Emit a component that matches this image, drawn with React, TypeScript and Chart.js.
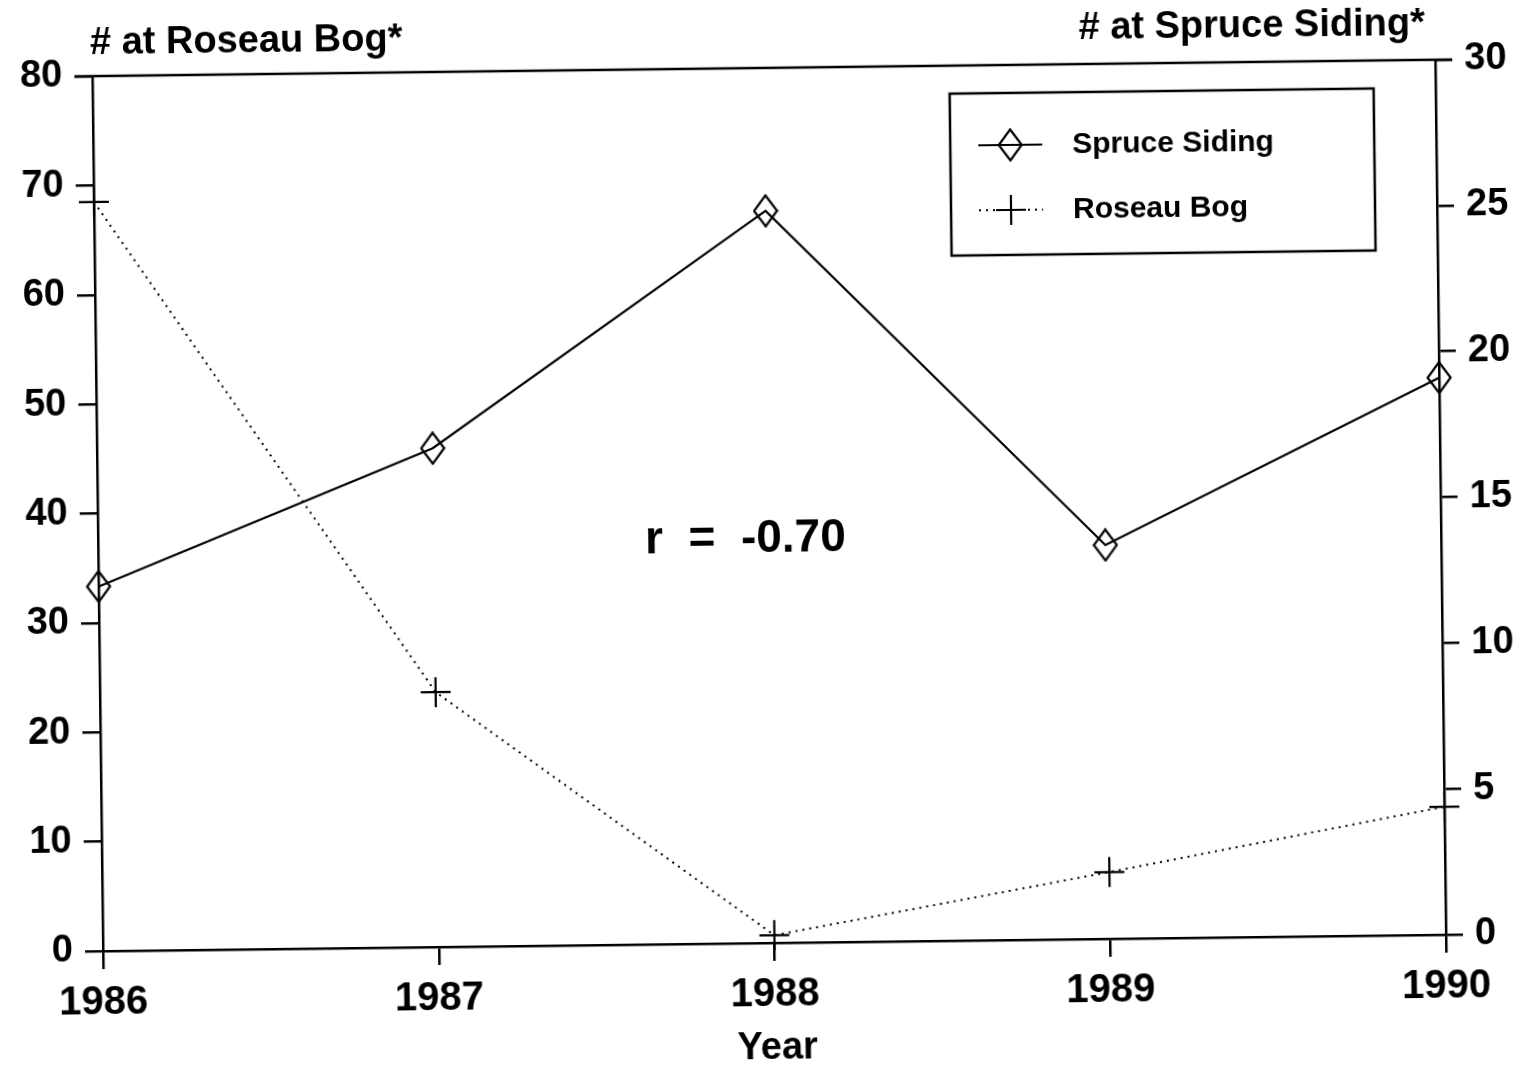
import React, { useEffect, useRef } from "react";
import { Chart, registerables } from "chart.js";
Chart.register(...registerables);

// ---- data ----
const years = ["1986", "1987", "1988", "1989", "1990"];
const spruceSiding = [12.5, 17.1, 25.1, 13.5, 19.1]; // right axis
const roseauBog = [68.5, 23.3, 0.7, 6.1, 11.7]; // left axis
const seriesNames = ["Spruce Siding", "Roseau Bog"];
const leftAxisTitle = "# at Roseau Bog*";
const rightAxisTitle = "# at Spruce Siding*";
const xAxisTitle = "Year";
const correlationText = "r  =  -0.70";
const leftAxisMin = 0;
const leftAxisMax = 80;
const leftAxisStep = 10;
const rightAxisMin = 0;
const rightAxisMax = 30;
const rightAxisStep = 5;

const FONT = "'Liberation Sans', Arial, Helvetica, sans-serif";

function makeDiamond(): HTMLCanvasElement {
  const c = document.createElement("canvas");
  c.width = 26;
  c.height = 34;
  const ctx = c.getContext("2d")!;
  ctx.strokeStyle = "#000";
  ctx.lineWidth = 2.2;
  ctx.beginPath();
  ctx.moveTo(13, 1.5);
  ctx.lineTo(24.5, 17);
  ctx.lineTo(13, 32.5);
  ctx.lineTo(1.5, 17);
  ctx.closePath();
  ctx.stroke();
  return c;
}

const annotationPlugin = {
  id: "annotations",
  afterDraw(chart: any) {
    const { ctx, chartArea } = chart;
    ctx.save();
    // top frame line
    ctx.strokeStyle = "#000";
    ctx.lineWidth = 2.5;
    ctx.beginPath();
    ctx.moveTo(chartArea.left - 18, chartArea.top);
    ctx.lineTo(chartArea.right + 17, chartArea.top);
    ctx.stroke();

    ctx.fillStyle = "#000";
    // axis titles
    ctx.font = `bold 38px ${FONT}`;
    ctx.textBaseline = "middle";
    ctx.textAlign = "left";
    ctx.fillText(leftAxisTitle, 96, 36);
    ctx.textAlign = "right";
    ctx.fillText(rightAxisTitle, 1431, 33);
    ctx.textAlign = "center";
    ctx.font = `bold 38px ${FONT}`;
    ctx.fillText(xAxisTitle, (chartArea.left + chartArea.right) / 2 + 2, 1049);

    // correlation text
    ctx.font = `bold 46px ${FONT}`;
    ctx.textAlign = "left";
    ctx.fillText(correlationText, 645, 539);

    // legend box
    const bx = 955, by = 96, bw = 424, bh = 162;
    ctx.lineWidth = 2.5;
    ctx.strokeRect(bx, by, bw, bh);
    const rows = [148, 213];
    chart.data.datasets.forEach((ds: any, i: number) => {
      const y = rows[i];
      ctx.save();
      ctx.lineWidth = 2;
      ctx.strokeStyle = "#000";
      ctx.setLineDash(ds.borderDash || []);
      ctx.beginPath();
      ctx.moveTo(983, y);
      ctx.lineTo(1047, y);
      ctx.stroke();
      ctx.restore();
      const ps = ds.pointStyle;
      if (ps instanceof HTMLCanvasElement) {
        ctx.drawImage(ps, 1015 - ps.width / 2, y - ps.height / 2);
      } else {
        ctx.lineWidth = 2.2;
        ctx.beginPath();
        ctx.moveTo(1015 - 15, y);
        ctx.lineTo(1015 + 15, y);
        ctx.moveTo(1015, y - 15);
        ctx.lineTo(1015, y + 15);
        ctx.stroke();
      }
      ctx.font = `bold 30px ${FONT}`;
      ctx.textAlign = "left";
      ctx.textBaseline = "middle";
      ctx.fillText(ds.label, 1077, y + 1);
    });
    ctx.restore();
  },
};

export default function App() {
  const ref = useRef<HTMLCanvasElement | null>(null);
  useEffect(() => {
    if (!ref.current) return;
    const diamond = makeDiamond();
    const axisCommon = {
      border: { display: true, color: "#000", width: 2.5 },
      grid: {
        drawOnChartArea: false,
        drawTicks: true,
        tickLength: 18,
        color: "#000",
        lineWidth: 2.5,
      },
    };
    const chart = new Chart(ref.current, {
      type: "line",
      data: {
        labels: years,
        datasets: [
          {
            label: seriesNames[0],
            data: spruceSiding,
            yAxisID: "yRight",
            borderColor: "#000",
            backgroundColor: "transparent",
            borderWidth: 2.2,
            pointStyle: diamond as any,
            pointRadius: 16,
            pointBorderColor: "#000",
            pointBorderWidth: 2,
            tension: 0,
            clip: false as any,
          },
          {
            label: seriesNames[1],
            data: roseauBog,
            yAxisID: "yLeft",
            borderColor: "#000",
            backgroundColor: "transparent",
            borderWidth: 2,
            borderDash: [2, 5],
            pointStyle: "cross",
            pointRadius: 15,
            pointBorderColor: "#000",
            pointBorderWidth: 2.2,
            tension: 0,
            clip: false as any,
          },
        ],
      },
      options: {
        responsive: false,
        animation: false,
        devicePixelRatio: 1,
        layout: { padding: { top: 68, left: 0, right: 0, bottom: 0 } },
        plugins: {
          legend: { display: false },
          tooltip: { enabled: false },
          title: { display: false },
        },
        scales: {
          x: {
            type: "category",
            offset: false,
            ...axisCommon,
            ticks: {
              color: "#000",
              font: { family: FONT, size: 40, weight: "bold" },
              padding: 10,
              maxRotation: 0,
              autoSkip: false,
            },
            afterFit: (scale: any) => {
              scale.height = 126;
            },
          },
          yLeft: {
            type: "linear",
            position: "left",
            min: leftAxisMin,
            max: leftAxisMax,
            ...axisCommon,
            ticks: {
              stepSize: leftAxisStep,
              color: "#000",
              font: { family: FONT, size: 38, weight: "bold" },
              padding: 12,
            },
            afterFit: (scale: any) => {
              scale.width = 98;
            },
          },
          yRight: {
            type: "linear",
            position: "right",
            min: rightAxisMin,
            max: rightAxisMax,
            ...axisCommon,
            grid: { ...axisCommon.grid, tickLength: 17 },
            ticks: {
              stepSize: rightAxisStep,
              color: "#000",
              font: { family: FONT, size: 38, weight: "bold" },
              padding: 12,
            },
            afterFit: (scale: any) => {
              scale.width = 83;
            },
          },
        },
      } as any,
      plugins: [annotationPlugin],
    });
    return () => chart.destroy();
  }, []);
  return (
    <div
      style={{
        position: "fixed",
        left: 0,
        top: 0,
        width: 1524,
        height: 1069,
        background: "#fff",
        transform: "rotate(-0.7deg)",
        transformOrigin: "50% 50%",
      }}
    >
      <canvas ref={ref} width={1524} height={1069} style={{ display: "block" }} />
    </div>
  );
}
